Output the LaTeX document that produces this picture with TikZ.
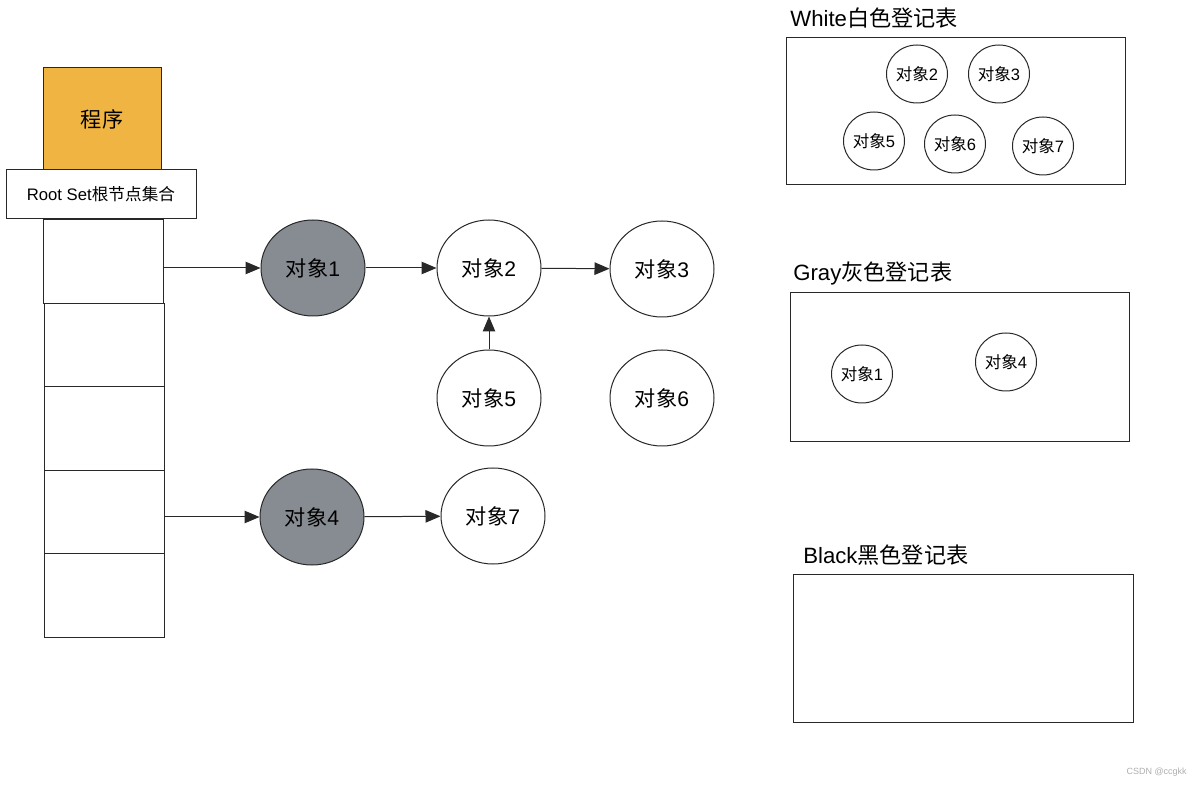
\documentclass[tikz,border=0pt]{standalone}
\usepackage{fontspec}
\setmainfont{Liberation Sans}
\newfontfamily\cjk{Noto Sans CJK SC}
\usetikzlibrary{shapes.geometric,arrows.meta}
\definecolor{orangebox}{RGB}{239,180,65}
\definecolor{objgray}{RGB}{135,139,146}
\definecolor{edgec}{RGB}{40,40,40}
\definecolor{wmark}{RGB}{175,175,175}
\newlength\px
\setlength\px{0.6pt}
\newcommand\zh[1]{{\cjk #1}}
\begin{document}
\begin{tikzpicture}[x=0.6pt,y=-0.6pt,
  bigobj/.style={ellipse,draw=edgec,line width=0.6pt,inner sep=0pt,
    minimum width=104\px,minimum height=96\px,font=\fontsize{12.7}{14}\selectfont},
  smallobj/.style={ellipse,draw=edgec,line width=0.6pt,inner sep=0pt,
    minimum width=61\px,minimum height=58\px,font=\fontsize{9.9}{11}\selectfont},
  cell/.style={rectangle,draw=edgec,line width=0.6pt,fill=white,inner sep=0pt,
    minimum width=120\px,minimum height=83.5\px},
  table/.style={rectangle,draw=edgec,line width=0.6pt,inner sep=0pt},
  title/.style={anchor=west,inner sep=0pt,font=\fontsize{13.3}{15}\selectfont},
  arr/.style={draw=edgec,line width=0.6pt,-{Triangle[length=9pt,width=7.5pt]}}]
\useasboundingbox (0,0) rectangle (1200,786);
\fill[white] (0,0) rectangle (1200,786);

% program and root set
\node[rectangle,draw=edgec,line width=0.6pt,fill=orangebox,inner sep=0pt,
  minimum width=118\px,minimum height=102\px,font=\fontsize{12.7}{14}\selectfont]
  (prog) at (102,119) {\zh{程序}};
\node[rectangle,draw=edgec,line width=0.6pt,fill=white,inner sep=0pt,
  minimum width=190\px,minimum height=49\px,font=\fontsize{10}{12}\selectfont]
  (root) at (101,194.5) {Root Set\zh{根节点集合}};

% stack cells
\node[cell] (c1) at (103.5,261.5) {};
\node[cell] (c2) at (104,345) {};
\node[cell] (c3) at (104,428.5) {};
\node[cell] (c4) at (104.5,512) {};
\node[cell] (c5) at (104.5,595.5) {};

% objects
\node[bigobj,fill=objgray] (o1) at (313,268) {\zh{对象}1};
\node[bigobj,fill=white] (o2) at (489,268) {\zh{对象}2};
\node[bigobj,fill=white] (o3) at (662,269) {\zh{对象}3};
\node[bigobj,fill=white] (o5) at (489,398) {\zh{对象}5};
\node[bigobj,fill=white] (o6) at (662,398) {\zh{对象}6};
\node[bigobj,fill=objgray] (o4) at (312,517) {\zh{对象}4};
\node[bigobj,fill=white] (o7) at (493,516) {\zh{对象}7};

% connectors
\draw[arr] (c1.east |- o1) -- (o1);
\draw[arr] (o1) -- (o2);
\draw[arr] (o2) -- (o3);
\draw[arr] (o5) -- (o2);
\draw[arr] (c4.east |- o4) -- (o4);
\draw[arr] (o4) -- (o7);

% white table
\node[title] (wt) at (790,18) {White\zh{白色登记表}};
\node[table,minimum width=339\px,minimum height=147\px] (wbox) at (955.5,111.5) {};
\node[smallobj] (w2) at (917,74) {\zh{对象}2};
\node[smallobj] (w3) at (999,74) {\zh{对象}3};
\node[smallobj] (w5) at (874,141) {\zh{对象}5};
\node[smallobj] (w6) at (955,144) {\zh{对象}6};
\node[smallobj] (w7) at (1043,146) {\zh{对象}7};

% gray table
\node[title] (gt) at (793,273) {Gray\zh{灰色登记表}};
\node[table,minimum width=339\px,minimum height=149\px] (gbox) at (959.5,367.5) {};
\node[smallobj] (g1) at (862,374) {\zh{对象}1};
\node[smallobj] (g4) at (1006,362) {\zh{对象}4};

% black table
\node[title] (bt) at (803,555) {Black\zh{黑色登记表}};
\node[table,minimum width=340\px,minimum height=148\px] (bbox) at (963,648) {};

% watermark
\node[anchor=east,inner sep=0pt,text=wmark,font=\fontsize{5.4}{6}\selectfont] (wm) at (1187,772) {CSDN @ccgkk};
\end{tikzpicture}
\end{document}
